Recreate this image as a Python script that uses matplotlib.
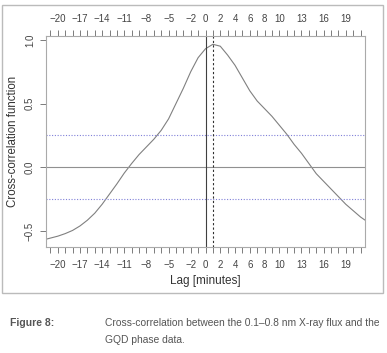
import matplotlib
matplotlib.use("Agg")
import matplotlib.pyplot as plt
from matplotlib.patches import Rectangle
from matplotlib import font_manager

names = {f.name for f in font_manager.fontManager.ttflist}
narrow = "Liberation Sans Narrow" if "Liberation Sans Narrow" in names else "Liberation Sans"
plt.rcParams['font.family'] = [narrow, 'DejaVu Sans']

lags = list(range(-22, 23))
ccf = [-0.57, -0.555, -0.54, -0.52, -0.495, -0.46, -0.415, -0.36, -0.29, -0.21,
       -0.13, -0.045, 0.03, 0.10, 0.16, 0.22, 0.29, 0.38, 0.50, 0.62,
       0.75, 0.86, 0.93, 0.965, 0.95, 0.88, 0.80, 0.70, 0.60, 0.52,
       0.46, 0.40, 0.33, 0.26, 0.18, 0.11, 0.03, -0.05, -0.11, -0.17,
       -0.23, -0.29, -0.34, -0.39, -0.43]
xtick_vals = [-20, -17, -14, -11, -8, -5, -2, 0, 2, 4, 6, 8, 10, 13, 16, 19]
ytick_vals = [-0.5, 0.0, 0.5, 1.0]
ci = 0.25
peak_lag = 1

fig = plt.figure(figsize=(3.87, 3.53), dpi=100)
fig.patches.append(Rectangle((2/387, 1-293/353), 381/387, 288/353, transform=fig.transFigure,
                             fill=False, edgecolor='#bbbbbb', linewidth=1.0))
ax = fig.add_axes([46/387, 1-247/353, 319/387, 211/353])
ax.plot(lags, ccf, color='#808080', linewidth=0.8)
ax.axhline(0, color='#909090', linewidth=0.8)
ax.axhline(ci, color='#8080d8', linestyle=(0, (1, 1.5)), linewidth=0.8)
ax.axhline(-ci, color='#8080d8', linestyle=(0, (1, 1.5)), linewidth=0.8)
ax.axvline(0, color='#404040', linewidth=0.8)
ax.axvline(peak_lag, color='#303030', linestyle=(0, (2, 2)), linewidth=0.8)

ax.set_xlim(-21.6, 21.6)
ax.set_ylim(-0.625, 1.03)
ax.set_xticks(list(range(-21, 22)))
ax.set_xticklabels([str(v).replace('-', '\u2212') if v in xtick_vals else '' for v in range(-21, 22)])
ax.set_yticks(ytick_vals)
ax.set_yticklabels(['\u22120.5', '0.0', '0.5', '1.0'], rotation=90, va='center')
ax.tick_params(axis='x', top=True, labeltop=True, bottom=True, labelbottom=True,
               direction='out', length=4, width=0.6, color='#666666', labelsize=7,
               labelcolor='#444444', pad=5)
ax.tick_params(axis='y', direction='out', length=4, width=0.6, color='#666666',
               labelsize=7, labelcolor='#444444', pad=4)
for s in ax.spines.values():
    s.set_color('#aaaaaa')
    s.set_linewidth(0.8)
ax.set_xlabel('Lag [minutes]', fontsize=8.5, color='#333333', labelpad=4)
ax.set_ylabel('Cross-correlation function', fontsize=8.3, color='#333333', labelpad=4)

fig.text(10/387, 1-323/353, 'Figure 8:', fontsize=7.5, fontweight='bold', color='#555555', va='center')
fig.text(105/387, 1-323/353, 'Cross-correlation between the 0.1\u20130.8 nm X-ray flux and the',
         fontsize=7.4, color='#555555', va='center')
fig.text(105/387, 1-340/353, 'GQD phase data.', fontsize=7.4, color='#555555', va='center')

fig.savefig('out.png', dpi=100, facecolor='white')
